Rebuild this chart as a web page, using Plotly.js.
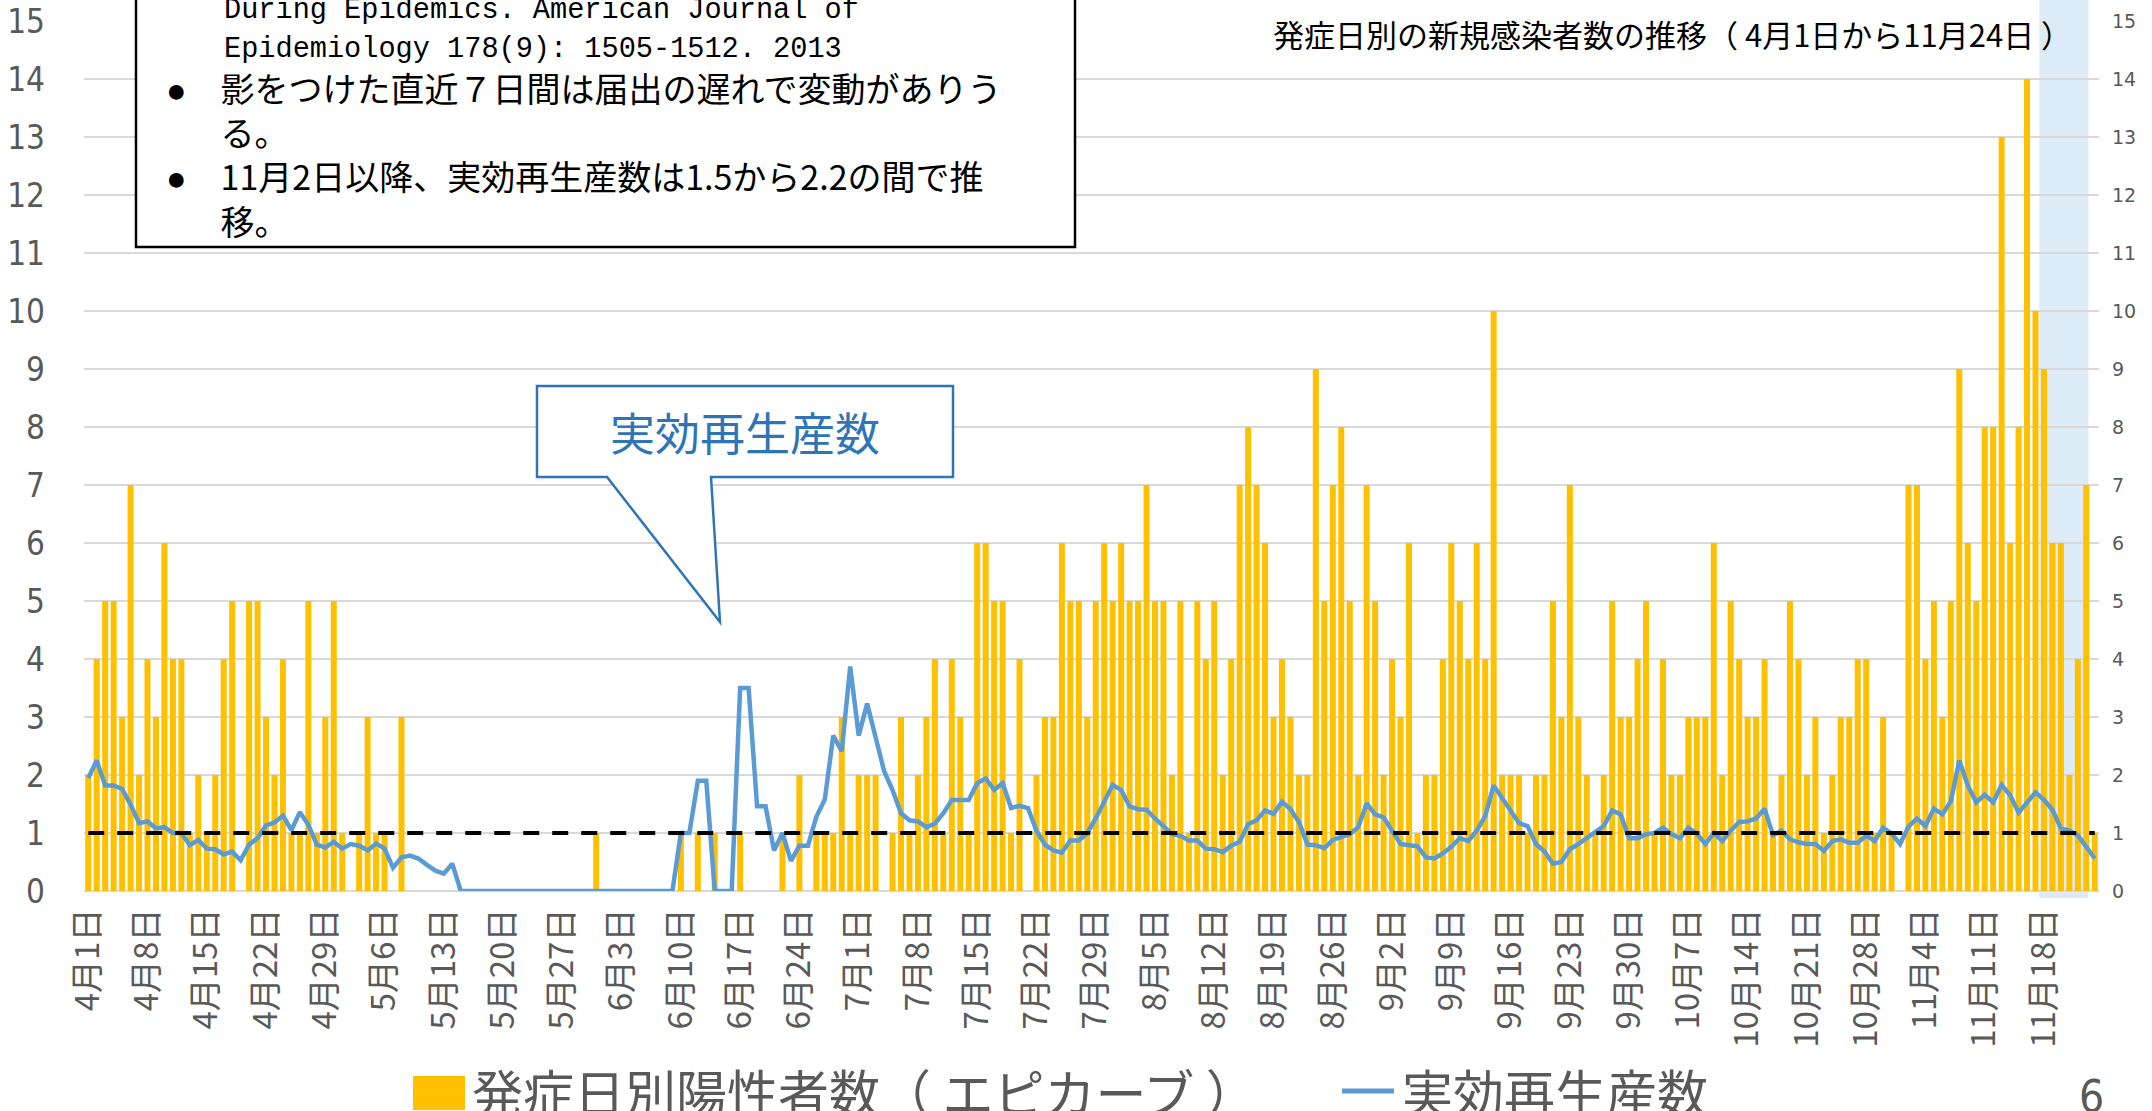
<!DOCTYPE html>
<html><head><meta charset="utf-8">
<script src="https://cdn.plot.ly/plotly-3.0.1.min.js"></script>
<style>html,body{margin:0;padding:0;background:#fff;overflow:hidden}#chart{width:2152px;height:1111px}</style>
</head><body><div id="chart"></div>
<script>
// ---- data ----
const months = [4,5,6,7,8,9,10,11];
const monthDays = [30,31,30,31,31,30,31,24];
const categories = [];
months.forEach((m,k)=>{ for(let d=1; d<=monthDays[k]; d++) categories.push(m+'月'+d+'日'); });

const cases = [
 2,4,5,5,3,7,2,4,3,6,
 4,4,1,2,1,2,4,5,0,5,
 5,3,2,4,1,1,5,1,3,5,
 1,0,1,3,1,1,0,3,0,0,
 0,0,0,0,0,0,0,0,0,0,
 0,0,0,0,0,0,0,0,0,0,
 1,0,0,0,0,0,0,0,0,0,
 1,0,1,0,1,0,0,1,0,0,
 0,0,1,0,2,0,1,1,1,3,
 1,2,2,2,0,1,3,1,2,3,
 4,1,4,3,1,6,6,5,5,1,
 4,0,2,3,3,6,5,5,3,5,
 6,5,6,5,5,7,5,5,2,5,
 1,5,4,5,2,4,7,8,7,6,
 3,4,3,2,2,9,5,7,8,5,
 2,7,5,2,4,3,6,1,2,2,
 4,6,5,4,6,4,10,2,2,2,
 1,2,2,5,3,7,3,2,1,2,
 5,3,3,4,5,1,4,2,2,3,
 3,3,6,2,5,4,3,3,4,1,
 2,5,4,2,3,1,2,3,3,4,
 4,1,3,1,0,7,7,4,5,3,
 5,9,6,5,8,8,13,6,8,14,
 10,9,6,6,2,4,7,1
];

const rt = [
 1.95,2.25,1.82,1.82,1.76,1.49,1.17,1.2,1.08,1.1,
 1.0,1.0,0.79,0.88,0.73,0.72,0.63,0.68,0.53,0.8,
 0.91,1.13,1.18,1.3,1.05,1.36,1.14,0.8,0.75,0.85,
 0.73,0.81,0.78,0.7,0.82,0.73,0.4,0.58,0.61,0.56,
 0.45,0.35,0.3,0.47,0,0,0,0,0,0,
 0,0,0,0,0,0,0,0,0,0,
 0,0,0,0,0,0,0,0,0,0,
 1.0,1.0,1.9,1.9,0,0,0,3.5,3.5,1.46,
 1.46,0.7,1.0,0.52,0.78,0.78,1.28,1.58,2.68,2.41,
 3.87,2.68,3.23,2.65,2.07,1.74,1.34,1.22,1.2,1.1,
 1.16,1.34,1.57,1.57,1.57,1.86,1.94,1.74,1.86,1.43,
 1.47,1.43,1.04,0.8,0.7,0.66,0.87,0.87,1.0,1.25,
 1.55,1.83,1.74,1.46,1.41,1.4,1.25,1.11,0.98,0.95,
 0.87,0.87,0.73,0.72,0.67,0.78,0.85,1.15,1.22,1.39,
 1.33,1.54,1.41,1.19,0.8,0.79,0.74,0.88,0.93,0.98,
 1.1,1.51,1.32,1.27,1.04,0.81,0.79,0.77,0.58,0.56,
 0.65,0.76,0.91,0.86,1.04,1.29,1.82,1.6,1.37,1.17,
 1.12,0.81,0.68,0.47,0.5,0.72,0.81,0.91,1.0,1.12,
 1.39,1.32,0.91,0.91,0.98,1.0,1.09,0.98,0.91,1.09,
 0.99,0.81,1.0,0.86,1.04,1.19,1.2,1.25,1.42,0.96,
 1.04,0.89,0.84,0.81,0.81,0.69,0.86,0.89,0.83,0.83,
 0.96,0.86,1.09,0.99,0.81,1.11,1.25,1.12,1.42,1.32,
 1.55,2.25,1.82,1.53,1.66,1.53,1.83,1.65,1.35,1.52,
 1.7,1.57,1.4,1.08,1.04,0.96,0.76,0.56
];

const tickLabels = ['4月1日','4月8日','4月15日','4月22日','4月29日','5月6日','5月13日','5月20日','5月27日',
 '6月3日','6月10日','6月17日','6月24日','7月1日','7月8日','7月15日','7月22日','7月29日',
 '8月5日','8月12日','8月19日','8月26日','9月2日','9月9日','9月16日','9月23日','9月30日',
 '10月7日','10月14日','10月21日','10月28日','11月4日','11月11日','11月18日'];
const refLine = [1, 1];
const shadeStart = '11月18日', shadeEnd = '11月23日';

const seriesBar = '発症日別陽性者数（ エピカーブ ）';
const seriesLine = '実効再生産数';
const chartTitle = '発症日別の新規感染者数の推移（ 4月1日から11月24日 ）';
const boxRef = ['During Epidemics. American Journal of','Epidemiology 178(9): 1505-1512. 2013'];
const boxNotes = ['影をつけた直近７日間は届出の遅れで変動がありう','る。','11月2日以降、実効再生産数は1.5から2.2の間で推','移。'];
const noteBullet = [true, false, true, false];

// ---- geometry ----
const Wd=2152, Ht=1111, L=84, R=53, T=21, B=220;
const PW=Wd-L-R, PH=Ht-T-B;
const px = x => (x-L)/PW;
const py = y => (Ht-B-y)/PH;

const JP = 'Noto Sans CJK JP, sans-serif';
const NARROW = 'Liberation Sans Narrow, DejaVu Sans Condensed, Arial Narrow, sans-serif';
const GREY = '#595959';

const traces = [
 {type:'bar', x:categories, y:cases, name:seriesBar, marker:{color:'#FFC000'}, yaxis:'y'},
 {type:'scatter', mode:'lines', x:categories, y:rt, name:seriesLine, line:{color:'#5B9BD5', width:4.5}, yaxis:'y2'},
 {type:'scatter', mode:'lines', x:[categories[0], categories[categories.length-1]], y:refLine, line:{color:'#000', width:4, dash:'16px,13px'}, yaxis:'y2'}
];

const si = categories.indexOf(shadeStart), ei = categories.indexOf(shadeEnd);

const calloutPts = [[537,386],[953,386],[953,477],[711,477],[720,622],[607,477],[537,477]];
const calloutPath = 'M ' + calloutPts.map(p=>px(p[0]).toFixed(5)+','+py(p[1]).toFixed(5)).join(' L ') + ' Z';

const shapes = [
 {type:'rect', xref:'x', yref:'paper', x0:si-0.55, x1:ei+0.25, y0:py(898), y1:py(0), fillcolor:'#DDEBF7', line:{width:0}, layer:'below'},
 {type:'rect', xref:'paper', yref:'paper', x0:px(136), x1:px(1075), y0:py(247), y1:py(-6), fillcolor:'#fff', line:{color:'#000', width:2.5}, layer:'above'},
 {type:'path', xref:'paper', yref:'paper', path:calloutPath, fillcolor:'#fff', line:{color:'#2E75B6', width:2.5}, layer:'above'},
 {type:'rect', xref:'paper', yref:'paper', x0:px(413), x1:px(465), y0:py(1110), y1:py(1076), fillcolor:'#FFC000', line:{width:0}},
 {type:'line', xref:'paper', yref:'paper', x0:px(1342), x1:px(1394), y0:py(1091), y1:py(1091), line:{color:'#5B9BD5', width:5}}
];

// one block for the bulleted notes: bullet (visible or invisible) + ideographic space + text
const bulletSpan = vis => '<span style="font-family:Liberation Sans, sans-serif;color:' + (vis ? '#000000' : 'rgba(0,0,0,0)') + '">●</span>\u3000';
const notesText = boxNotes.map((t,k)=> bulletSpan(noteBullet[k]) + t).join('<br>');

const ann = (text,x,y,opt) => Object.assign({text, xref:'paper', yref:'paper', x:px(x), y:py(y), showarrow:false, xanchor:'left', yanchor:'middle'}, opt);
const annotations = [
 ann(chartTitle, 1672, 34, {xanchor:'center', font:{family:JP, size:31, color:'#000'}}),
 ann(boxRef[0], 222, 11, {font:{family:'Liberation Mono, monospace', size:28.6, color:'#000'}}),
 ann(boxRef[1], 222, 50, {font:{family:'Liberation Mono, monospace', size:28.6, color:'#000'}}),
 ann(notesText, 164, 154, {align:'left', font:{family:JP, size:34, color:'#000'}}),
 ann(seriesLine, 745, 431, {xanchor:'center', font:{family:JP, size:45, color:'#2E75B6'}}),
 ann(seriesBar, 470, 1091, {font:{family:JP, size:51, color:GREY}}),
 ann(seriesLine, 1400, 1091, {font:{family:JP, size:51, color:GREY}}),
 ann('6', 2091, 1096, {xanchor:'center', font:{family:NARROW, size:44, color:GREY}})
];

const layout = {
 width:Wd, height:Ht, margin:{l:L, r:R, t:T, b:B, pad:0},
 paper_bgcolor:'#fff', plot_bgcolor:'#fff', showlegend:false, bargap:0.29,
 xaxis:{type:'category', range:[-0.5, categories.length-0.5], tickmode:'array', tickvals:tickLabels, ticktext:tickLabels,
   tickangle:-90, tickfont:{family:JP, size:33, color:GREY}, showgrid:false, zeroline:false, showline:false, ticks:'', ticklabelstandoff:10},
 yaxis:{range:[0,15], tickmode:'linear', tick0:0, dtick:1, showgrid:true, gridcolor:'#D9D9D9', gridwidth:1.6,
   zeroline:true, zerolinecolor:'#D9D9D9', zerolinewidth:1.6, showline:false, ticks:'',
   tickfont:{family:NARROW, size:33, color:GREY}, ticklabelstandoff:38},
 yaxis2:{overlaying:'y', side:'right', range:[0,15], tickmode:'linear', tick0:0, dtick:1, showgrid:false, zeroline:false, showline:false, ticks:'',
   tickfont:{family:'DejaVu Sans, sans-serif', size:19, color:GREY}, ticklabelstandoff:12},
 shapes, annotations
};

Plotly.newPlot('chart', traces, layout, {displayModeBar:false, staticPlot:true});
</script></body></html>
